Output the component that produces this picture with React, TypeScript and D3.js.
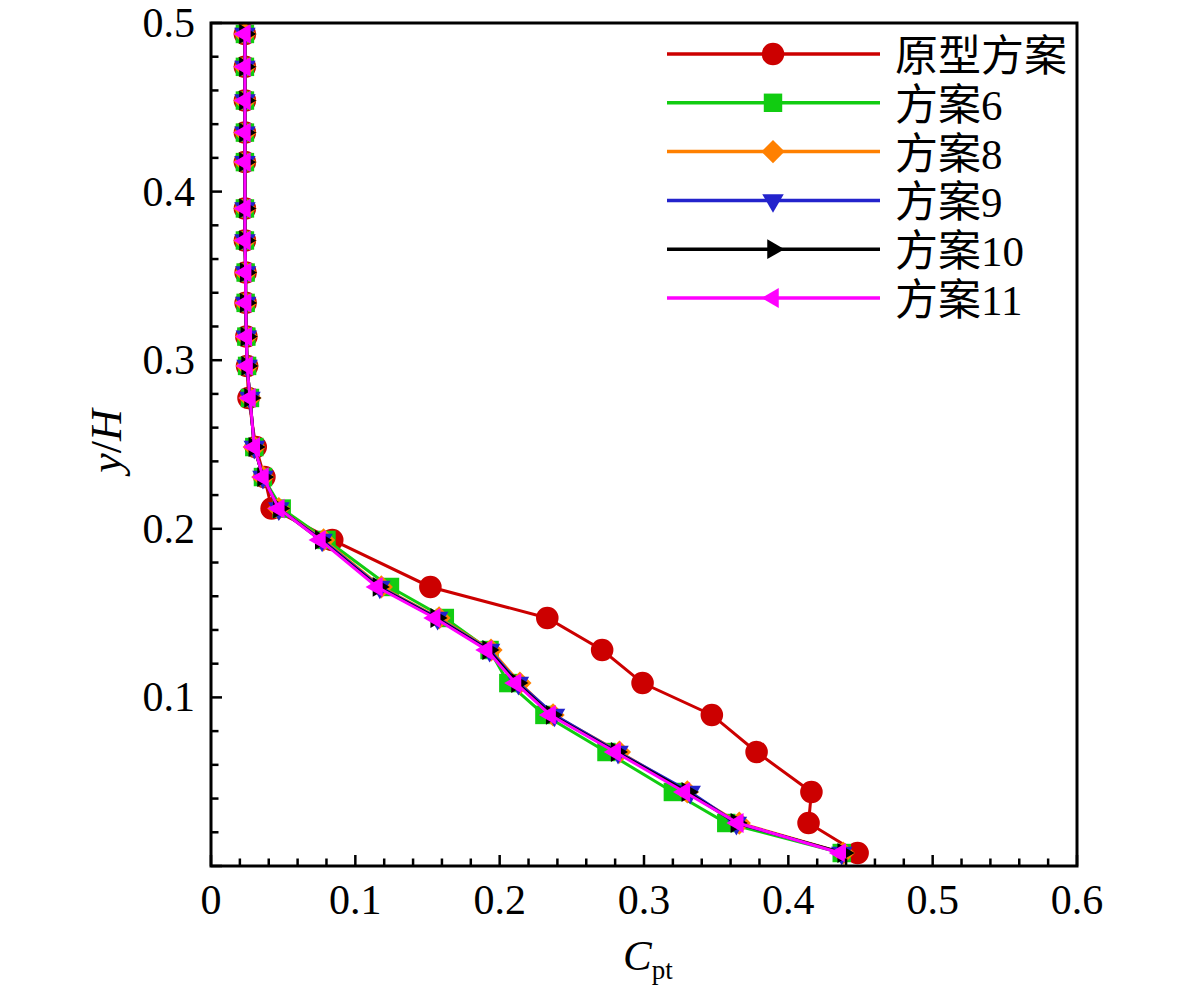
import React, { useEffect, useRef } from 'react';
import * as d3 from 'd3';

// y/H levels shared by all series (top to bottom)
const yLevels = [
  0.4935, 0.474, 0.454, 0.435, 0.4175, 0.39, 0.371, 0.352, 0.334, 0.314, 0.2966, 0.2776,
  0.2485, 0.2307, 0.212, 0.1934, 0.1655, 0.1471, 0.1281, 0.1085, 0.0896, 0.0676, 0.0439, 0.0255, 0.0077,
];

const proto = [
  0.0235, 0.0235, 0.0235, 0.0235, 0.0235, 0.0235, 0.0235, 0.024, 0.024, 0.0245, 0.025, 0.026,
  0.031, 0.037, 0.042, 0.084, 0.152, 0.233, 0.271, 0.299, 0.347, 0.378, 0.416, 0.414, 0.448,
];
const case6 = [
  0.0235, 0.0235, 0.0235, 0.0235, 0.0235, 0.0235, 0.0235, 0.024, 0.024, 0.0245, 0.025, 0.027,
  0.030, 0.036, 0.049, 0.080, 0.124, 0.162, 0.193, 0.206, 0.231, 0.274, 0.320, 0.357, 0.437,
];
const case8 = [
  0.0235, 0.0235, 0.0235, 0.0235, 0.0235, 0.0235, 0.0235, 0.024, 0.024, 0.0245, 0.025, 0.027,
  0.030, 0.036, 0.047, 0.078, 0.118, 0.158, 0.194, 0.214, 0.237, 0.283, 0.330, 0.366, 0.438,
];
const case9 = [
  0.0235, 0.0235, 0.0235, 0.0235, 0.0235, 0.0235, 0.0235, 0.024, 0.024, 0.0245, 0.025, 0.027,
  0.030, 0.036, 0.047, 0.077, 0.117, 0.157, 0.193, 0.213, 0.238, 0.282, 0.332, 0.364, 0.437,
];
const case10 = [
  0.0235, 0.0235, 0.0235, 0.0235, 0.0235, 0.0235, 0.0235, 0.024, 0.024, 0.0245, 0.025, 0.027,
  0.030, 0.036, 0.047, 0.076, 0.116, 0.156, 0.192, 0.212, 0.236, 0.281, 0.330, 0.364, 0.438,
];
const case11 = [
  0.0235, 0.0235, 0.0235, 0.0235, 0.0235, 0.0235, 0.0235, 0.024, 0.024, 0.0245, 0.025, 0.027,
  0.030, 0.036, 0.047, 0.0755, 0.115, 0.155, 0.191, 0.211, 0.235, 0.280, 0.328, 0.365, 0.436,
];

const seriesNames = ['原型方案', '方案6', '方案8', '方案9', '方案10', '方案11'];
const seriesValues = [proto, case6, case8, case9, case10, case11];
const seriesColors = ['#cc0000', '#11cc11', '#ff8000', '#2323cc', '#000000', '#ff00ff'];
const seriesMarkers = ['circle', 'square', 'diamond', 'down', 'right', 'left'];

const xTicks = [0, 0.1, 0.2, 0.3, 0.4, 0.5, 0.6];
const yTicks = [0.1, 0.2, 0.3, 0.4, 0.5];

const W = 1181;
const H = 994;
const margin = { left: 211, right: 1077, top: 23, bottom: 866 };
const serif = '"Liberation Serif", "Times New Roman", "Noto Sans CJK SC", serif';

const markerPath = (kind: string): { d: string; rot: number } => {
  switch (kind) {
    case 'circle':
      return { d: d3.symbol().type(d3.symbolCircle).size(400)()!, rot: 0 };
    case 'square':
      return { d: d3.symbol().type(d3.symbolSquare).size(340)()!, rot: 0 };
    case 'diamond':
      return { d: d3.symbol().type(d3.symbolSquare).size(270)()!, rot: 45 };
    case 'down':
      return { d: d3.symbol().type(d3.symbolTriangle).size(200)()!, rot: 180 };
    case 'right':
      return { d: d3.symbol().type(d3.symbolTriangle).size(170)()!, rot: 90 };
    default:
      return { d: d3.symbol().type(d3.symbolTriangle).size(170)()!, rot: -90 };
  }
};

const App: React.FC = () => {
  const svgRef = useRef<SVGSVGElement | null>(null);

  useEffect(() => {
    const svg = d3.select(svgRef.current);
    svg.selectAll('*').remove();

    const x = d3.scaleLinear().domain([0, 0.6]).range([margin.left, margin.right]);
    const y = d3.scaleLinear().domain([0, 0.5]).range([margin.bottom, margin.top]);

    // series
    seriesValues.forEach((vals, si) => {
      const pts: [number, number][] = vals.map((v, i) => [x(v), y(yLevels[i])]);
      const g = svg.append('g');
      g.append('path')
        .attr('d', d3.line()(pts)!)
        .attr('fill', 'none')
        .attr('stroke', seriesColors[si])
        .attr('stroke-width', 3);
      const m = markerPath(seriesMarkers[si]);
      g.selectAll('path.mk')
        .data(pts)
        .enter()
        .append('path')
        .attr('class', 'mk')
        .attr('d', m.d)
        .attr('transform', (p) => `translate(${p[0]},${p[1]}) rotate(${m.rot})`)
        .attr('fill', seriesColors[si]);
    });

    // frame
    svg.append('rect')
      .attr('x', margin.left)
      .attr('y', margin.top)
      .attr('width', margin.right - margin.left)
      .attr('height', margin.bottom - margin.top)
      .attr('fill', 'none')
      .attr('stroke', '#000')
      .attr('stroke-width', 3);

    // x ticks
    const xMinor = d3.range(0, 0.6001, 0.02);
    svg.append('g')
      .selectAll('line')
      .data(xMinor)
      .enter()
      .append('line')
      .attr('x1', (d) => x(d))
      .attr('x2', (d) => x(d))
      .attr('y1', margin.bottom)
      .attr('y2', (_, i) => margin.bottom - (i % 5 === 0 ? 11 : 7.5))
      .attr('stroke', '#000')
      .attr('stroke-width', 2.5);
    svg.append('g')
      .selectAll('text')
      .data(xTicks)
      .enter()
      .append('text')
      .attr('x', (d) => x(d))
      .attr('y', 914)
      .attr('text-anchor', 'middle')
      .attr('font-family', serif)
      .attr('font-size', 42)
      .text((d) => (d === 0 ? '0' : d3.format('.1f')(d)));

    // y ticks
    const yMinor = d3.range(0, 0.5001, 0.02);
    svg.append('g')
      .selectAll('line')
      .data(yMinor)
      .enter()
      .append('line')
      .attr('y1', (d) => y(d))
      .attr('y2', (d) => y(d))
      .attr('x1', margin.left)
      .attr('x2', (_, i) => margin.left + (i % 5 === 0 ? 11 : 7.5))
      .attr('stroke', '#000')
      .attr('stroke-width', 2.5);
    svg.append('g')
      .selectAll('text')
      .data(yTicks)
      .enter()
      .append('text')
      .attr('x', 195)
      .attr('y', (d) => y(d) + 14)
      .attr('text-anchor', 'end')
      .attr('font-family', serif)
      .attr('font-size', 42)
      .text((d) => d3.format('.1f')(d));

    // axis titles
    const xt = svg.append('text')
      .attr('x', 623)
      .attr('y', 970)
      .attr('text-anchor', 'start')
      .attr('font-family', serif)
      .attr('font-size', 43);
    xt.append('tspan').attr('font-style', 'italic').text('C');
    xt.append('tspan').attr('font-size', 27).attr('dy', 9).text('pt');

    const yt = svg.append('text')
      .attr('transform', 'translate(121,441) rotate(-90)')
      .attr('text-anchor', 'middle')
      .attr('font-family', serif)
      .attr('font-size', 44)
      .attr('font-style', 'italic');
    yt.append('tspan').text('y');
    yt.append('tspan').attr('font-style', 'normal').text('/');
    yt.append('tspan').text('H');

    // legend
    const lg = svg.append('g');
    seriesNames.forEach((name, si) => {
      const cy = 54 + si * 48.8;
      lg.append('line')
        .attr('x1', 667)
        .attr('x2', 880)
        .attr('y1', cy)
        .attr('y2', cy)
        .attr('stroke', seriesColors[si])
        .attr('stroke-width', 3.5);
      const m = markerPath(seriesMarkers[si]);
      lg.append('path')
        .attr('d', m.d)
        .attr('transform', `translate(773,${cy}) rotate(${m.rot})`)
        .attr('fill', seriesColors[si]);
      lg.append('text')
        .attr('x', 895)
        .attr('y', cy + 17)
        .attr('font-family', serif)
        .attr('font-size', 43)
        .text(name);
    });
  }, []);

  return (
    <div style={{ position: 'absolute', left: 0, top: 0 }}>
      <svg ref={svgRef} width={W} height={H} style={{ display: 'block', background: '#fff' }} />
    </div>
  );
};

export default App;
